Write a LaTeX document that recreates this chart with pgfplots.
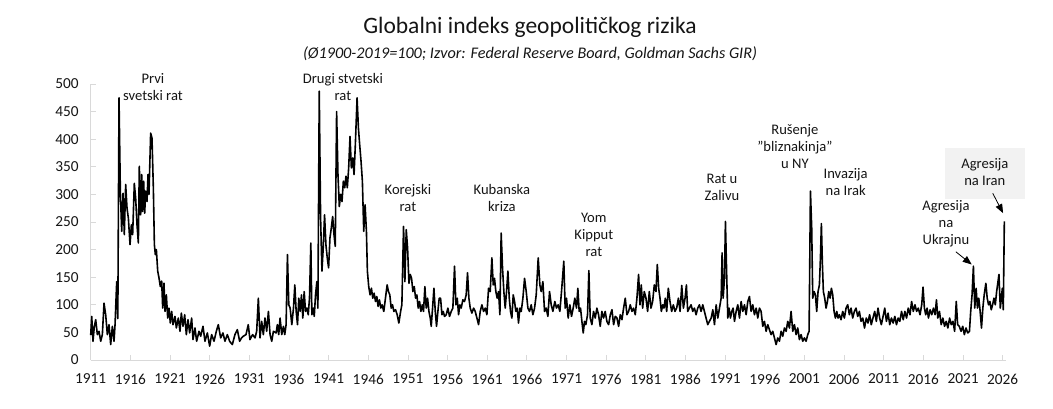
\documentclass[border=0pt]{standalone}
\usepackage{fontspec}
\setmainfont{Carlito}
\usepackage{pgfplots}
\pgfplotsset{compat=1.18}
\usetikzlibrary{arrows.meta}
\definecolor{axgray}{HTML}{D9D9D9}
\definecolor{boxgray}{HTML}{F2F2F2}
\definecolor{txt}{HTML}{151515}
\begin{document}
\begin{tikzpicture}
\useasboundingbox (-90.7pt,-49pt) rectangle (962.3pt,360pt);
\begin{axis}[
  at={(0pt,0pt)}, anchor=south west,
  scale only axis, width=915.3pt, height=276pt,
  xmin=1911, xmax=2026.42, ymin=0, ymax=500,
  xtick={1911,1916,...,2026}, ytick={0,50,...,500},
  /pgf/number format/1000 sep={},
  /pgf/number format/assume math mode=true,
  axis x line*=bottom, axis y line*=left,
  axis line style={axgray, line width=0.8pt},
  tick align=inside, major tick length=5pt,
  tick style={axgray, line width=0.8pt},
  ticklabel style={font=\fontsize{15.3}{18}\selectfont, text=txt},
  yticklabel style={xshift=-8.5pt},
  xticklabel style={yshift=-10.5pt},
  clip=false,
]
\fill[boxgray] (axis cs:2018.7,384) rectangle (axis cs:2028.8,292);
\addplot[black, line width=1.6pt, line join=round] coordinates {
(1911.0,45) (1911.13,79) (1911.29,34) (1911.45,60) (1911.63,73) (1911.84,46) (1912.05,52) (1912.26,34) (1912.47,46) (1912.68,103) (1912.89,82) (1913.10,46) (1913.31,64) (1913.52,28) (1913.73,61) (1913.94,34) (1914.07,64) (1914.28,142) (1914.42,75) (1914.57,475) (1914.74,305) (1914.91,233) (1915.08,302) (1915.24,227) (1915.41,318) (1915.58,275) (1915.75,257) (1915.96,209) (1916.13,245) (1916.29,227) (1916.50,320) (1916.67,293) (1916.84,245) (1917.01,212) (1917.13,351) (1917.30,263) (1917.43,336) (1917.55,269) (1917.68,324) (1917.81,266) (1917.93,306) (1918.10,287) (1918.23,336) (1918.35,300) (1918.56,411) (1918.73,402) (1918.90,312) (1919.03,209) (1919.15,191) (1919.28,200) (1919.45,161) (1919.61,149) (1919.78,133) (1919.95,143) (1920.08,94) (1920.24,139) (1920.37,88) (1920.54,118) (1920.71,76) (1920.87,94) (1921.04,67) (1921.21,88) (1921.38,64) (1921.63,79) (1921.80,58) (1922.05,76) (1922.26,52) (1922.43,85) (1922.64,61) (1922.85,82) (1923.06,46) (1923.27,73) (1923.48,49) (1923.73,76) (1923.90,37) (1924.15,58) (1924.36,34) (1924.66,52) (1924.87,43) (1925.16,61) (1925.41,34) (1925.71,49) (1926.00,25) (1926.25,46) (1926.55,34) (1926.84,52) (1927.09,64) (1927.39,40) (1927.68,49) (1927.93,34) (1928.23,46) (1928.52,34) (1928.86,28) (1929.19,46) (1929.49,55) (1929.78,34) (1930.02,40)
(1930.24,43) (1930.58,46) (1930.87,64) (1931.08,37) (1931.42,46) (1931.72,40) (1931.93,52) (1932.14,112) (1932.35,40) (1932.56,70) (1932.77,46) (1932.98,76) (1933.19,52) (1933.41,88) (1933.62,46) (1933.83,34) (1934.04,52) (1934.38,49) (1934.54,64) (1934.71,46) (1934.88,76) (1935.09,46) (1935.30,61) (1935.47,46) (1935.64,64) (1935.81,191) (1935.98,100) (1936.15,94) (1936.36,64) (1936.57,94) (1936.74,136) (1936.91,88) (1937.08,64) (1937.24,112) (1937.41,88) (1937.58,118) (1937.75,76) (1937.92,124) (1938.09,88) (1938.26,94) (1938.43,82) (1938.59,112) (1938.76,212) (1938.89,82) (1939.06,94) (1939.19,79) (1939.35,118) (1939.52,142) (1939.65,94) (1939.82,487) (1939.99,257) (1940.16,161) (1940.32,203) (1940.49,263) (1940.66,209) (1940.83,185) (1941.00,167) (1941.17,221) (1941.34,239) (1941.51,260) (1941.68,227) (1941.84,206) (1942.01,450) (1942.18,336) (1942.35,278) (1942.52,300) (1942.69,287) (1942.86,324) (1943.03,312) (1943.19,333) (1943.36,312) (1943.53,348) (1943.70,405) (1943.87,348) (1944.04,366) (1944.21,336) (1944.38,393) (1944.59,475) (1944.76,420) (1944.92,390) (1945.09,360) (1945.26,324) (1945.43,233) (1945.60,281) (1945.77,233) (1945.89,161) (1946.06,133) (1946.23,118) (1946.40,130) (1946.57,112) (1946.74,121) (1946.91,106) (1947.08,115) (1947.24,97) (1947.41,109) (1947.58,94) (1947.75,100) (1947.96,88) (1948.17,112) (1948.38,136) (1948.55,124) (1948.72,118) (1948.89,94) (1949.06,100) (1949.23,88) (1949.44,91) (1949.65,82) (1949.86,67)
(1950.08,88) (1950.24,100) (1950.45,242) (1950.62,142) (1950.79,236) (1950.96,203) (1951.13,139) (1951.29,155) (1951.46,148) (1951.63,124) (1951.80,133) (1951.97,112) (1952.13,118) (1952.30,94) (1952.47,106) (1952.64,88) (1952.81,100) (1952.97,88) (1953.14,133) (1953.31,94) (1953.48,112) (1953.65,88) (1953.82,76) (1953.94,61) (1954.11,94) (1954.28,130) (1954.45,88) (1954.61,61) (1954.78,88) (1954.95,112) (1955.12,112) (1955.29,82) (1955.45,88) (1955.62,79) (1955.83,82) (1956.04,94) (1956.25,79) (1956.46,88) (1956.67,94) (1956.88,170) (1957.05,100) (1957.22,112) (1957.39,82) (1957.55,100) (1957.72,94) (1957.93,109) (1958.14,106) (1958.35,118) (1958.52,158) (1958.69,112) (1958.86,94) (1959.07,85) (1959.28,94) (1959.49,88) (1959.70,76) (1959.91,64) (1960.12,88) (1960.33,100) (1960.54,88) (1960.75,94) (1960.96,82) (1961.17,130) (1961.38,124) (1961.59,185) (1961.76,136) (1961.92,148) (1962.09,124) (1962.26,112) (1962.43,124) (1962.60,82) (1962.76,230) (1962.93,167) (1963.10,124) (1963.27,94) (1963.44,124) (1963.61,161) (1963.78,112) (1963.94,88) (1964.11,76) (1964.28,118) (1964.45,106) (1964.61,88) (1964.78,94) (1964.95,67) (1965.12,94) (1965.29,88) (1965.50,112) (1965.71,148) (1965.92,124) (1966.13,94) (1966.34,88) (1966.55,100) (1966.76,82) (1966.97,94) (1967.18,118) (1967.43,185) (1967.64,136) (1967.81,124) (1968.02,142) (1968.23,88) (1968.44,94) (1968.65,79) (1968.86,124) (1969.07,100) (1969.28,88)
(1969.53,106) (1969.74,94) (1969.95,100) (1970.16,88) (1970.37,124) (1970.66,179) (1970.83,94) (1971.00,112) (1971.21,76) (1971.42,100) (1971.63,79) (1971.84,94) (1972.05,112) (1972.26,94) (1972.43,130) (1972.60,88) (1972.77,94) (1972.94,70) (1973.11,49) (1973.27,70) (1973.44,64) (1973.65,82) (1973.82,162) (1973.99,76) (1974.20,64) (1974.41,88) (1974.62,76) (1974.83,94) (1975.04,82) (1975.25,61) (1975.46,88) (1975.67,76) (1975.88,88) (1976.09,70) (1976.31,64) (1976.52,82) (1976.73,91) (1976.94,64) (1977.15,79) (1977.36,76) (1977.57,61) (1977.78,82) (1977.99,73) (1978.20,94) (1978.41,112) (1978.62,82) (1978.83,88) (1979.04,100) (1979.25,88) (1979.46,94) (1979.67,82) (1979.88,112) (1980.09,155) (1980.26,100) (1980.43,136) (1980.60,94) (1980.81,124) (1981.02,112) (1981.23,88) (1981.44,124) (1981.65,94) (1981.86,106) (1982.07,136) (1982.28,124) (1982.45,173) (1982.62,130) (1982.79,112) (1982.96,88) (1983.13,100) (1983.29,94) (1983.46,112) (1983.63,88) (1983.84,130) (1984.05,106) (1984.26,88) (1984.47,100) (1984.68,88) (1984.89,94) (1985.11,112) (1985.32,88) (1985.53,135) (1985.74,94) (1985.95,112) (1986.12,136) (1986.28,88) (1986.49,94) (1986.71,100) (1986.92,88) (1987.13,94) (1987.34,82) (1987.55,94) (1987.76,100) (1987.97,88) (1988.18,100) (1988.39,88) (1988.60,76) (1988.81,64) (1989.02,70)
(1989.24,76) (1989.45,91) (1989.66,64) (1989.87,100) (1990.08,76) (1990.29,94) (1990.50,112) (1990.62,194) (1990.75,112) (1990.92,148) (1991.04,251) (1991.21,148) (1991.34,76) (1991.50,94) (1991.67,76) (1991.84,88) (1992.01,94) (1992.18,70) (1992.39,88) (1992.60,100) (1992.81,76) (1993.02,106) (1993.23,88) (1993.44,100) (1993.65,82) (1993.86,106) (1994.07,115) (1994.28,88) (1994.49,100) (1994.70,82) (1994.91,94) (1995.12,76) (1995.33,94) (1995.54,88) (1995.75,61) (1995.96,70) (1996.17,52) (1996.38,64) (1996.59,55) (1996.80,46) (1997.01,52) (1997.22,40) (1997.43,28) (1997.64,40) (1997.85,34) (1998.06,52) (1998.27,43) (1998.48,58) (1998.69,52) (1998.90,70) (1999.11,58) (1999.32,88) (1999.53,52) (1999.74,64) (1999.95,46) (2000.16,58) (2000.37,37) (2000.58,46) (2000.79,34) (2001.00,40) (2001.21,34) (2001.42,46) (2001.59,52) (2001.76,306) (2001.92,239) (2002.05,112) (2002.22,124) (2002.39,118) (2002.55,88) (2002.72,124) (2002.89,136) (2003.02,185) (2003.14,247) (2003.27,173) (2003.39,124) (2003.56,112) (2003.73,94) (2003.90,106) (2004.07,124) (2004.24,112) (2004.40,130) (2004.57,118) (2004.74,88) (2004.91,76) (2005.08,88) (2005.24,76) (2005.41,82) (2005.62,73) (2005.83,88) (2006.04,76) (2006.25,94) (2006.46,100) (2006.67,82) (2006.88,94) (2007.09,76) (2007.30,88) (2007.51,94) (2007.72,79) (2007.93,88) (2008.14,70) (2008.36,76)
(2008.58,58) (2008.80,76) (2009.01,67) (2009.22,82) (2009.43,64) (2009.64,76) (2009.86,88) (2010.07,70) (2010.28,94) (2010.49,76) (2010.70,64) (2010.92,79) (2011.13,94) (2011.34,70) (2011.55,85) (2011.76,64) (2011.97,76) (2012.19,67) (2012.40,79) (2012.61,64) (2012.82,76) (2013.03,70) (2013.25,88) (2013.46,73) (2013.67,88) (2013.88,76) (2014.09,94) (2014.31,82) (2014.52,106) (2014.73,88) (2014.94,100) (2015.15,88) (2015.36,94) (2015.58,82) (2015.79,100) (2015.96,132) (2016.13,94) (2016.30,82) (2016.47,94) (2016.64,76) (2016.85,91) (2017.06,82) (2017.27,94) (2017.48,82) (2017.65,109) (2017.82,76) (2018.03,88) (2018.25,64) (2018.46,76) (2018.67,61) (2018.88,70) (2019.09,58) (2019.31,76) (2019.52,64) (2019.73,70) (2019.94,52) (2020.15,106) (2020.32,64) (2020.53,61) (2020.75,52) (2020.96,61) (2021.17,46) (2021.38,58) (2021.59,49) (2021.81,52) (2021.97,88) (2022.14,118) (2022.31,170) (2022.48,94) (2022.65,130) (2022.82,94) (2022.99,112) (2023.16,88) (2023.33,58) (2023.50,94) (2023.67,118) (2023.88,139) (2024.05,112) (2024.22,100) (2024.39,106) (2024.56,91) (2024.73,100) (2024.90,112) (2025.07,100) (2025.24,124) (2025.41,142) (2025.53,155) (2025.70,94) (2025.83,112) (2025.96,130) (2026.08,91) (2026.21,251)
};
\begin{scope}[every node/.style={font=\fontsize{14.6}{17}\selectfont, align=center, text=txt}]
\node at (axis cs:1918.85,495) {Prvi\\svetski rat};
\node at (axis cs:1942.8,494) {Drugi stvetski\\rat};
\node at (axis cs:1951.0,294) {Korejski\\rat};
\node at (axis cs:1962.85,293) {Kubanska\\kriza};
\node at (axis cs:1974.45,226) {Yom\\Kipput\\rat};
\node at (axis cs:1990.6,312) {Rat u\\Zalivu};
\node at (axis cs:1999.8,386) {Rušenje\\"bliznakinja"\\u NY};
\node at (axis cs:2006.2,322) {Invazija\\na Irak};
\node at (axis cs:2018.85,246) {Agresija\\na\\Ukrajnu};
\node at (axis cs:2023.75,341) {Agresija\\na Iran};
\end{scope}
\draw[black, line width=0.8pt, -{Triangle[length=9pt,width=7pt]}] (axis cs:2020.1,196) -- (axis cs:2022.1,173);
\draw[black, line width=0.8pt, -{Triangle[length=9pt,width=7pt]}] (axis cs:2024.75,302) -- (axis cs:2026.05,266);
\end{axis}
\node[font=\fontsize{23.5}{28}\selectfont, text=txt] at (439.3pt,333pt) {Globalni indeks geopolitičkog rizika};
\node[font=\fontsize{16.2}{19}\selectfont\itshape, text=txt] at (439.3pt,306pt) {(Ø1900-2019=100; Izvor: Federal Reserve Board, Goldman Sachs GIR)};
\end{tikzpicture}
\end{document}
